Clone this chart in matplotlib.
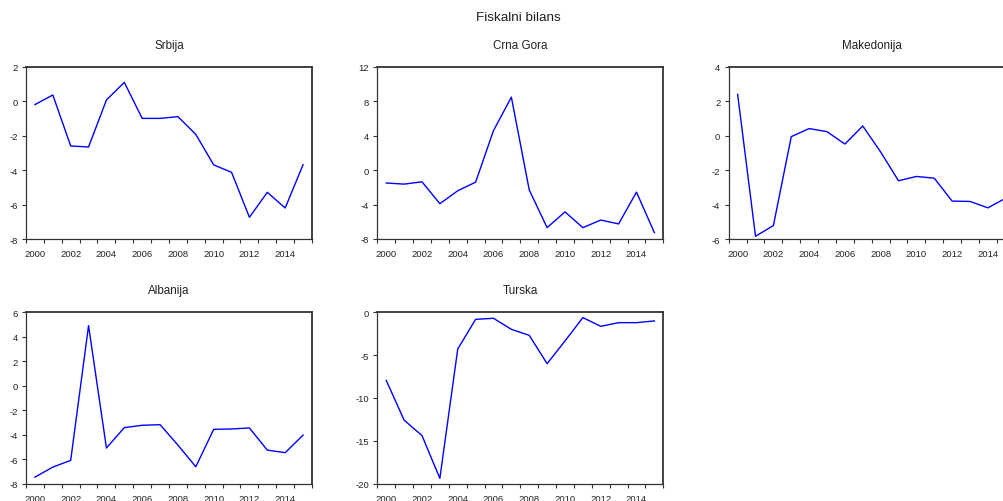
import numpy as np
import matplotlib
matplotlib.use("Agg")
import matplotlib.pyplot as plt

plt.rcParams['font.family'] = ['Liberation Sans', 'DejaVu Sans']

years = list(range(2000, 2016))

srbija = [-0.2, 0.36, -2.6, -2.66, 0.07, 1.09, -1.0, -1.0, -0.9, -1.93,
          -3.7, -4.13, -6.74, -5.29, -6.2, -3.69]
crna_gora = [-1.5, -1.63, -1.36, -3.9, -2.4, -1.4, 4.58, 8.47, -2.3, -6.68,
             -4.85, -6.68, -5.8, -6.25, -2.56, -7.26]
makedonija = [2.39, -5.84, -5.22, -0.06, 0.41, 0.23, -0.49, 0.56, -0.95, -2.62,
              -2.37, -2.47, -3.8, -3.82, -4.19, -3.63]
albanija = [-7.48, -6.66, -6.11, 4.91, -5.1, -3.43, -3.24, -3.19, -4.86, -6.63,
            -3.57, -3.54, -3.46, -5.27, -5.48, -4.04]
turska = [-7.95, -12.6, -14.4, -19.4, -4.29, -0.82, -0.7, -1.99, -2.69, -6.0,
          -3.35, -0.62, -1.64, -1.21, -1.21, -1.01]

panels = [
    ("Srbija", srbija, (-8, 2), np.arange(-8, 3, 2)),
    ("Crna Gora", crna_gora, (-8, 12), np.arange(-8, 13, 4)),
    ("Makedonija", makedonija, (-6, 4), np.arange(-6, 5, 2)),
    ("Albanija", albanija, (-8, 6), np.arange(-8, 7, 2)),
    ("Turska", turska, (-20, 0), np.arange(-20, 1, 5)),
]

W, H = 1004, 502
# axes boxes in pixels: left, top, right, bottom
boxes = [
    (26, 67.7, 312, 240),
    (377.3, 67.7, 663.3, 240),
    (728.7, 67.7, 1014.7, 240),
    (26, 313.3, 312, 484.5),
    (377.3, 313.3, 663.3, 484.5),
]

text_col = '#222222'
fig = plt.figure(figsize=(W / 100, H / 100), dpi=100)
fig.text(518 / W, 1 - 18 / H, "Fiskalni bilans", ha='center', va='center',
         fontsize=9.7, color=text_col)

for (name, vals, ylim, yticks), (l, t, r, b) in zip(panels, boxes):
    ax = fig.add_axes([l / W, 1 - b / H, (r - l) / W, (b - t) / H])
    x = np.arange(len(years)) + 0.5
    ax.plot(x, vals, color='#0000ff', lw=1.0)
    ax.set_xlim(0, len(years))
    ax.set_ylim(*ylim)
    # year boundaries get the ticks, labels sit at year centres
    ax.set_xticks(np.arange(0, len(years) + 1))
    ax.set_xticklabels([])
    ax.set_xticks(x[::2], minor=True)
    ax.set_xticklabels([str(y) for y in years[::2]], minor=True)
    ax.tick_params(axis='x', which='minor', length=0, pad=7.5,
                   labelsize=6.8, labelcolor=text_col)
    ax.tick_params(axis='x', which='major', length=3, width=0.8,
                   direction='out', color='#333333')
    ax.set_yticks(yticks)
    ax.set_yticklabels([str(v) for v in yticks])
    ax.tick_params(axis='y', length=3, width=0.8, direction='out', pad=3,
                   labelsize=6.8, labelcolor=text_col, color='#333333')
    for sp in ax.spines.values():
        sp.set_color('#333333')
        sp.set_linewidth(0.9)
    ax.spines['top'].set_linewidth(1.3)
    ax.spines['right'].set_linewidth(1.3)
    ax.text((l + r) / 2 / W, 1 - (t - 22) / H, name, transform=fig.transFigure,
            ha='center', va='center', fontsize=8.4, color=text_col)

fig.savefig("out.png", dpi=100)
